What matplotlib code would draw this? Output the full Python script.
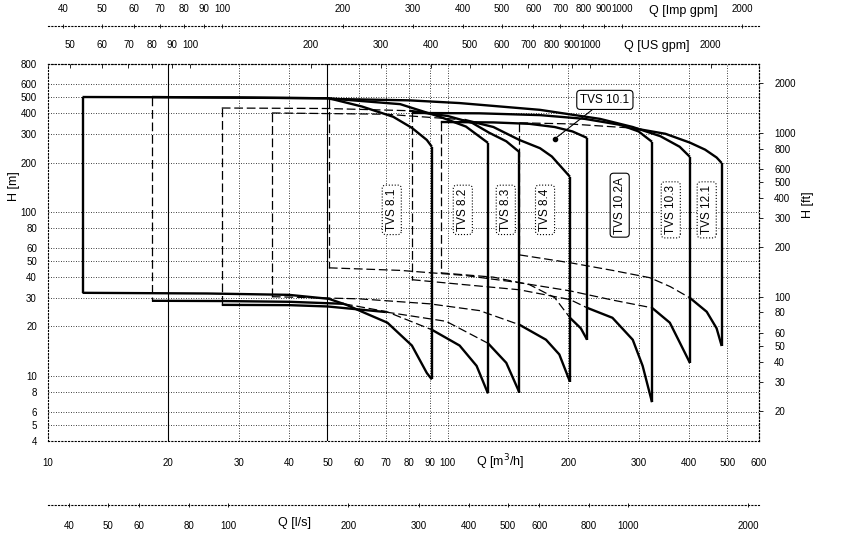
import numpy as np
import matplotlib
matplotlib.use("Agg")
import matplotlib.pyplot as plt

plt.rcParams['font.family'] = ['Liberation Sans', 'DejaVu Sans']

# pump working ranges: Q in m3/h, H in m
names = ['TVS 8.1', 'TVS 8.2', 'TVS 8.3', 'TVS 8.4',
         'TVS 10.1', 'TVS 10.2A', 'TVS 10.3', 'TVS 12.1']

top_q = [
    [12.2, 30, 50.4, 61, 73, 81.3, 88.6, 91.2],
    [18.2, 50, 76, 95.5, 111, 126],
    [27.2, 50, 80, 100, 115, 127, 140, 151],
    [36.3, 70, 110, 130, 151, 170, 182, 202],
    [96, 130, 160, 185, 205, 223],
    [81.3, 120, 170, 220, 270, 300, 324],
    [50.4, 80, 107, 170, 240, 290, 340, 380, 403],
    [151, 200, 290, 350, 403, 440, 470, 484],
]
top_h = [
    [503, 500, 494, 440, 381, 326, 275, 250],
    [503, 494, 455, 381, 332, 264],
    [431, 428, 415, 385, 350, 304, 270, 232],
    [402, 395, 365, 330, 275, 245, 218, 164],
    [354, 352, 345, 330, 310, 283],
    [402, 400, 390, 370, 340, 310, 268],
    [490, 480, 462, 420, 370, 330, 290, 250, 217],
    [350, 345, 325, 300, 265, 240, 215, 199],
]
bot_q = [
    [12.2, 25, 40, 50.4, 56, 61, 70.6, 81.3, 88.6, 91.2],
    [18.2, 27.2, 40, 55, 70.4, 91.2, 107, 118, 126],
    [27.2, 40, 50, 70, 99, 126, 140, 151],
    [36.3, 60, 90, 120, 151, 176, 190, 202],
    [96, 130, 160, 185, 202, 215, 223],
    [81.3, 110, 151, 202, 223, 258, 290, 307, 324],
    [50.4, 76, 110, 151, 202, 258, 324, 359, 380, 403],
    [151, 202, 258, 320, 360, 403, 444, 470, 484],
]
bot_h = [
    [32.1, 31.8, 31.2, 29.5, 27, 24.6, 21.1, 15.3, 10.4, 9.5],
    [28.7, 28.6, 28.3, 27.5, 24.6, 19.1, 15.3, 11.5, 7.8],
    [27.1, 27, 26.5, 24.5, 21.5, 15.8, 12.0, 7.9],
    [30.4, 29.5, 27.5, 25, 20.5, 16.6, 13.5, 9.2],
    [42.5, 40, 36, 30, 22.6, 19.5, 16.6],
    [38.6, 36, 33.5, 29.2, 26, 22.6, 16.6, 11.5, 6.9],
    [45.6, 44, 41, 37, 33, 29, 26, 21.1, 16, 12],
    [54.7, 49, 44, 39.7, 35, 29.9, 24.6, 19.5, 15.2],
]

# axis ticks
q_ticks = [10, 20, 30, 40, 50, 60, 70, 80, 90, 100, 200, 300, 400, 500, 600]
h_ticks = [4, 5, 6, 8, 10, 20, 30, 40, 50, 60, 80, 100, 200, 300, 400, 500, 600, 800]
ft_ticks = [20, 30, 40, 50, 60, 80, 100, 200, 300, 400, 500, 600, 800, 1000, 2000]
imp_ticks = [40, 50, 60, 70, 80, 90, 100, 200, 300, 400, 500, 600, 700, 800, 900, 1000, 2000]
us_ticks = [50, 60, 70, 80, 90, 100, 200, 300, 400, 500, 600, 700, 800, 900, 1000, 2000]
ls_ticks = [40, 50, 60, 80, 100, 200, 300, 400, 500, 600, 800, 1000, 2000]

IMP = 0.2728   # m3/h per Imp gpm
US = 0.2271    # m3/h per US gpm
LS = 0.282     # m3/h per unit of the lower scale
FT = 3.281


def inside(q, h, j):
    tq, th, bq, bh = top_q[j], top_h[j], bot_q[j], bot_h[j]
    if not (tq[0] * 1.02 < q < tq[-1] * 0.98):
        return False
    lq = np.log10(q)
    ht = 10 ** np.interp(lq, np.log10(tq), np.log10(th))
    hb = 10 ** np.interp(lq, np.log10(bq), np.log10(bh))
    return hb * 1.03 < h < ht * 0.97


def draw(ax, qs, hs, k):
    # dashed where the outline runs inside an earlier pump's range
    qs = np.asarray(qs, float)
    hs = np.asarray(hs, float)
    hidden = []
    for i in range(len(qs) - 1):
        qm = np.sqrt(qs[i] * qs[i + 1])
        hm = np.sqrt(hs[i] * hs[i + 1])
        hidden.append(any(inside(qm, hm, j) for j in range(k)))
    i = 0
    while i < len(hidden):
        j = i
        while j + 1 < len(hidden) and hidden[j + 1] == hidden[i]:
            j += 1
        sq, sh = qs[i:j + 2], hs[i:j + 2]
        if hidden[i]:
            ax.plot(sq, sh, color='black', lw=0.9, dashes=(7, 3), zorder=3)
        else:
            ax.plot(sq, sh, color='black', lw=1.7, solid_capstyle='butt',
                    solid_joinstyle='round', zorder=4)
        i = j + 1


fig = plt.figure(figsize=(8.43, 5.42), dpi=100)
W, Hp = 843.0, 542.0
ax = fig.add_axes([48 / W, 1 - 441 / Hp, (759 - 48) / W, (441 - 64) / Hp])
ax.set_xscale('log')
ax.set_yscale('log')
ax.set_xlim(10, 600)
ax.set_ylim(4, 800)

dot = (0, (1, 2))
fs = 7
ax.set_xticks(q_ticks)
ax.set_xticklabels([str(v) for v in q_ticks])
ax.set_yticks(h_ticks)
ax.set_yticklabels([str(v) for v in h_ticks])
ax.minorticks_off()
ax.tick_params(axis='x', length=0, pad=12, labelsize=fs)
ax.tick_params(axis='y', length=0, pad=8, labelsize=fs)
ax.grid(True, color='black', lw=0.6, linestyle=dot)
for s in ax.spines.values():
    s.set_linestyle(dot)
    s.set_linewidth(0.8)
ax.axvline(20, color='black', lw=0.8, zorder=2)
ax.axvline(50, color='black', lw=0.8, zorder=2)

for k in range(len(names)):
    draw(ax, top_q[k], top_h[k], k)
    draw(ax, bot_q[k], bot_h[k], k)
    draw(ax, [top_q[k][0], bot_q[k][0]], [top_h[k][0], bot_h[k][0]], k)
    draw(ax, [top_q[k][-1], bot_q[k][-1]], [top_h[k][-1], bot_h[k][-1]], k)

# model labels
label_q = [72.4, 109, 139.6, 175, None, 269, 361, 444]
label_h = [103, 103, 103, 103, None, 110, 103, 103]
for k, name in enumerate(names):
    if label_q[k] is None:
        continue
    ls = '-' if name == 'TVS 10.2A' else ':'
    ax.text(label_q[k], label_h[k], name, rotation=90, ha='center', va='center',
            fontsize=8.5, zorder=6,
            bbox=dict(boxstyle='round,pad=0.3', fc='white', ec='black', lw=0.8, ls=ls))
ax.plot([185], [279], 'o', color='black', ms=3, zorder=6)
ax.annotate('TVS 10.1', xy=(185, 279), xytext=(247, 483), ha='center', va='center',
            fontsize=8.5, zorder=6,
            arrowprops=dict(arrowstyle='-', lw=0.8, color='black', shrinkA=0, shrinkB=0),
            bbox=dict(boxstyle='round,pad=0.3', fc='white', ec='black', lw=0.8))

# secondary scales
ax_ft = ax.secondary_yaxis('right', functions=(lambda h: h * FT, lambda f: f / FT))
ax_ft.set_yticks(ft_ticks)
ax_ft.set_yticklabels([str(v) for v in ft_ticks])
ax_ft.yaxis.set_minor_locator(matplotlib.ticker.NullLocator())
ax_ft.tick_params(length=3, width=0.6, pad=8, labelsize=fs)
ax_ft.spines['right'].set_linestyle(dot)
ax_ft.spines['right'].set_linewidth(0.8)

ax_us = ax.secondary_xaxis('top', functions=(lambda q: q / US, lambda g: g * US))
ax_us.set_xticks(us_ticks)
ax_us.set_xticklabels([str(v) for v in us_ticks])
ax_us.xaxis.set_minor_locator(matplotlib.ticker.NullLocator())
ax_us.tick_params(length=3, width=0.6, direction='in', pad=10, labelsize=fs)
ax_us.spines['top'].set_linestyle(dot)

ax_imp = ax.secondary_xaxis(1.1, functions=(lambda q: q / IMP, lambda g: g * IMP))
ax_imp.set_xticks(imp_ticks)
ax_imp.set_xticklabels([str(v) for v in imp_ticks])
ax_imp.xaxis.set_minor_locator(matplotlib.ticker.NullLocator())
ax_imp.tick_params(length=3, width=0.6, direction='inout', pad=7, labelsize=fs)
ax_imp.spines['top'].set_linestyle(dot)
ax_imp.spines['top'].set_linewidth(0.8)

ax_ls = ax.secondary_xaxis(-0.17, functions=(lambda q: q / LS, lambda g: g * LS))
ax_ls.set_xticks(ls_ticks)
ax_ls.set_xticklabels([str(v) for v in ls_ticks])
ax_ls.xaxis.set_minor_locator(matplotlib.ticker.NullLocator())
ax_ls.tick_params(length=3, width=0.6, direction='inout', pad=10, labelsize=fs)
ax_ls.spines['bottom'].set_linestyle(dot)
ax_ls.spines['bottom'].set_linewidth(0.8)

# axis titles
fig.text(500 / W, 1 - 462 / Hp, 'Q [m$^3$/h]', ha='center', va='center', fontsize=9)
fig.text(295 / W, 1 - 523 / Hp, 'Q [l/s]', ha='center', va='center', fontsize=9)
fig.text(657 / W, 1 - 46 / Hp, 'Q [US gpm]', ha='center', va='center', fontsize=9)
fig.text(683 / W, 1 - 11 / Hp, 'Q [Imp gpm]', ha='center', va='center', fontsize=9)
fig.text(14 / W, 1 - 186 / Hp, 'H [m]', rotation=90, ha='center', va='center', fontsize=9)
fig.text(808 / W, 1 - 205 / Hp, 'H [ft]', rotation=90, ha='center', va='center', fontsize=9)

fig.savefig('out.png', dpi=100, facecolor='white')
